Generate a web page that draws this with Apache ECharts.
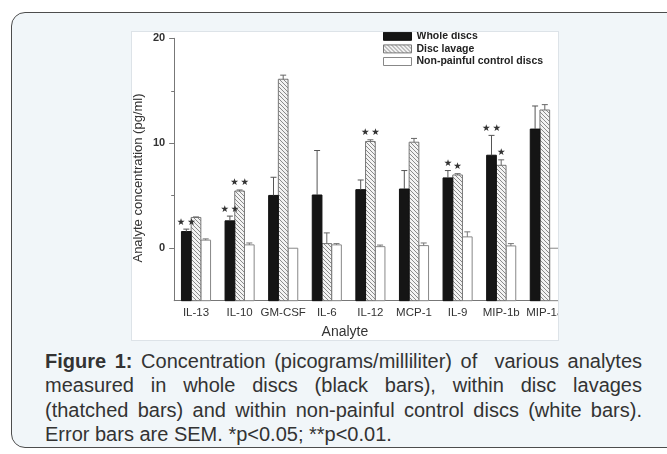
<!DOCTYPE html>
<html><head><meta charset="utf-8">
<script src="https://cdn.jsdelivr.net/npm/echarts@6/dist/echarts.min.js"></script>
<style>
html,body{margin:0;padding:0;width:667px;height:454px;overflow:hidden;background:#fff;font-family:"Liberation Sans",Arial,sans-serif;}
#box{position:absolute;left:11px;top:12px;width:720px;height:434px;border:1px solid #4d4d4d;border-radius:14px;background:#f1f6f9;}
#panel{position:absolute;left:131px;top:31px;width:428px;height:310px;border:1px solid #dde3e8;box-sizing:border-box;overflow:hidden;background:#fff;}
#chart{position:absolute;left:0;top:0;width:480px;height:308px;}
#caption{position:absolute;left:45px;top:349px;width:597px;font-size:20px;line-height:24.3px;color:#333;}
#caption .j{text-align:justify;text-align-last:justify;}
</style></head>
<body>
<div id="box"></div>
<div id="panel"><div id="chart"></div></div>
<div id="caption">
<div class="j"><b>Figure 1:</b> Concentration (picograms/milliliter) of&nbsp; various analytes</div>
<div class="j">measured in whole discs (black bars), within disc lavages</div>
<div class="j">(thatched bars) and within non-painful control discs (white bars).</div>
<div>Error bars are SEM. *p&lt;0.05; **p&lt;0.01.</div>
</div>
<script>
const categories = ['IL-13','IL-10','GM-CSF','IL-6','IL-12','MCP-1','IL-9','MIP-1b','MIP-1a'];
const seriesNames = ['Whole discs','Disc lavage','Non-painful control discs'];
const wholeDiscs      = [1.59, 2.61, 5.03, 5.07, 5.58, 5.64, 6.70, 8.86, 11.35];
const wholeDiscsSem   = [0.23, 0.45, 1.73, 4.24, 0.92, 1.76, 0.70, 1.89, 2.20];
const discLavage      = [2.93, 5.45, 16.10, 0.44, 10.17, 10.10, 6.98, 7.90, 13.17];
const discLavageSem   = [0.05, 0.10, 0.39, 1.02, 0.16, 0.36, 0.12, 0.52, 0.51];
const controlDiscs    = [0.77, 0.32, 0.00, 0.32, 0.15, 0.25, 1.08, 0.22, 0.00];
const controlDiscsSem = [0.12, 0.18, 0.00, 0.12, 0.15, 0.25, 0.48, 0.22, 0.00];
const wholeDiscsStars   = ['**','**','','','','','*','**',''];
const discLavageStars   = ['','**','','','**','','*','*',''];
const controlDiscsStars = ['','','','','','','','',''];
const yTickValues = [0, 10, 20];
const yMinorTickValues = [5, 15];
const yMin = -5, yMax = 20;

const BAR_W = 9.7;
const means = [wholeDiscs, discLavage, controlDiscs];
const sems = [wholeDiscsSem, discLavageSem, controlDiscsSem];
const stars = [wholeDiscsStars, discLavageStars, controlDiscsStars];
const errColors = ['#555', '#666', '#777'];

// hatch pattern
const pc = document.createElement('canvas'); pc.width = 4; pc.height = 4;
const ctx = pc.getContext('2d');
ctx.fillStyle = '#f3f3f3'; ctx.fillRect(0,0,4,4);
ctx.strokeStyle = '#8a8a8a'; ctx.lineWidth = 1;
ctx.beginPath();
ctx.moveTo(-1,-1); ctx.lineTo(5,5);
ctx.moveTo(-1,3); ctx.lineTo(1,5);
ctx.moveTo(3,-1); ctx.lineTo(5,1);
ctx.stroke();
const hatch = {image: pc, repeat: 'repeat'};

const styles = [
  {fill:'#151515', stroke:'#111'},
  {fill:hatch, stroke:'#777'},
  {fill:'#fff', stroke:'#888'}
];

function makeSeries(g){
  const data = categories.map((c, i) => [i, means[g][i], sems[g][i]]);
  return {
    type:'custom', name:seriesNames[g], data:data, encode:{x:0, y:1}, z: 4 - g,
    itemStyle:{color:styles[g].fill, borderColor:styles[g].stroke, borderWidth:1},
    renderItem:function(params, api){
      const i = api.value(0), v = api.value(1), e = api.value(2);
      const pTop = api.coord([i, v]);
      const pBase = api.coord([i, yMin]);
      const pErr = api.coord([i, v + e]);
      const x = pTop[0] + (g - 1) * BAR_W;
      const children = [{type:'rect', shape:{x:x - BAR_W/2, y:pTop[1], width:BAR_W, height:pBase[1]-pTop[1]},
        style:{fill:styles[g].fill, stroke:styles[g].stroke, lineWidth:1}}];
      const col = errColors[g];
      if (e > 0) {
        children.push({type:'line', shape:{x1:x, y1:pTop[1], x2:x, y2:pErr[1]}, style:{stroke:col, lineWidth:1}});
        children.push({type:'line', shape:{x1:x-3, y1:pErr[1], x2:x+3, y2:pErr[1]}, style:{stroke:col, lineWidth:1}});
      }
      const s = stars[g][i];
      if (s) children.push({type:'text', x:x, y:pErr[1]-7, z2:10,
        style:{text:s.split('').map(()=>'\u2605').join('\u2009'), fill:'#333', font:'9.5px "DejaVu Sans"', align:'center', verticalAlign:'middle'}});
      return {type:'group', children:children};
    }
  };
}

const chart = echarts.init(document.getElementById('chart'), null, {renderer:'canvas'});
chart.setOption({
  animation:false,
  textStyle:{fontFamily:'"Liberation Sans", Arial, sans-serif'},
  grid:{left:42.2, top:6.3, width:392.4, height:262.4, containLabel:false, outerBoundsMode:'none'},
  legend:{orient:'vertical', left:251, top:-1.7, padding:0, itemWidth:28, itemHeight:8, itemGap:0.6, icon:'rect', selectedMode:false,
    data:seriesNames.map((n, g) => ({name:n, itemStyle:{color:styles[g].fill, borderColor:styles[g].stroke, borderWidth:1}})),
    textStyle:{fontSize:10.5, fontWeight:'bold', color:'#222', lineHeight:12}},
  xAxis:{type:'category', data:categories,
    axisLine:{onZero:false, lineStyle:{color:'#777'}},
    axisTick:{alignWithLabel:true, length:4, lineStyle:{color:'#555'}},
    axisLabel:{interval:0, fontSize:11.5, color:'#333', margin:6},
    name:'Analyte', nameLocation:'middle', nameGap:24, nameMoveOverlap:false,
    nameTextStyle:{fontSize:14, color:'#333', padding:[0,51,0,0]}},
  yAxis:[{type:'value', min:yMin, max:yMax, position:'left',
    axisLine:{show:true, lineStyle:{color:'#777'}},
    axisTick:{show:true, length:5, customValues:yTickValues, lineStyle:{color:'#777'}},
    axisLabel:{customValues:yTickValues, fontSize:11, fontWeight:'bold', color:'#333', margin:9},
    splitLine:{show:false},
    name:'Analyte concentration (pg/ml)', nameLocation:'middle', nameGap:29, nameMoveOverlap:false,
    nameTextStyle:{fontSize:13, color:'#333', padding:[0,17,0,0]}},
   {type:'value', min:yMin, max:yMax, position:'left',
    axisLine:{show:false},
    axisTick:{show:true, length:3, customValues:yMinorTickValues, lineStyle:{color:'#777'}},
    axisLabel:{show:false}, splitLine:{show:false}}],
  series:[makeSeries(0), makeSeries(1), makeSeries(2)]
});
</script>
</body></html>
